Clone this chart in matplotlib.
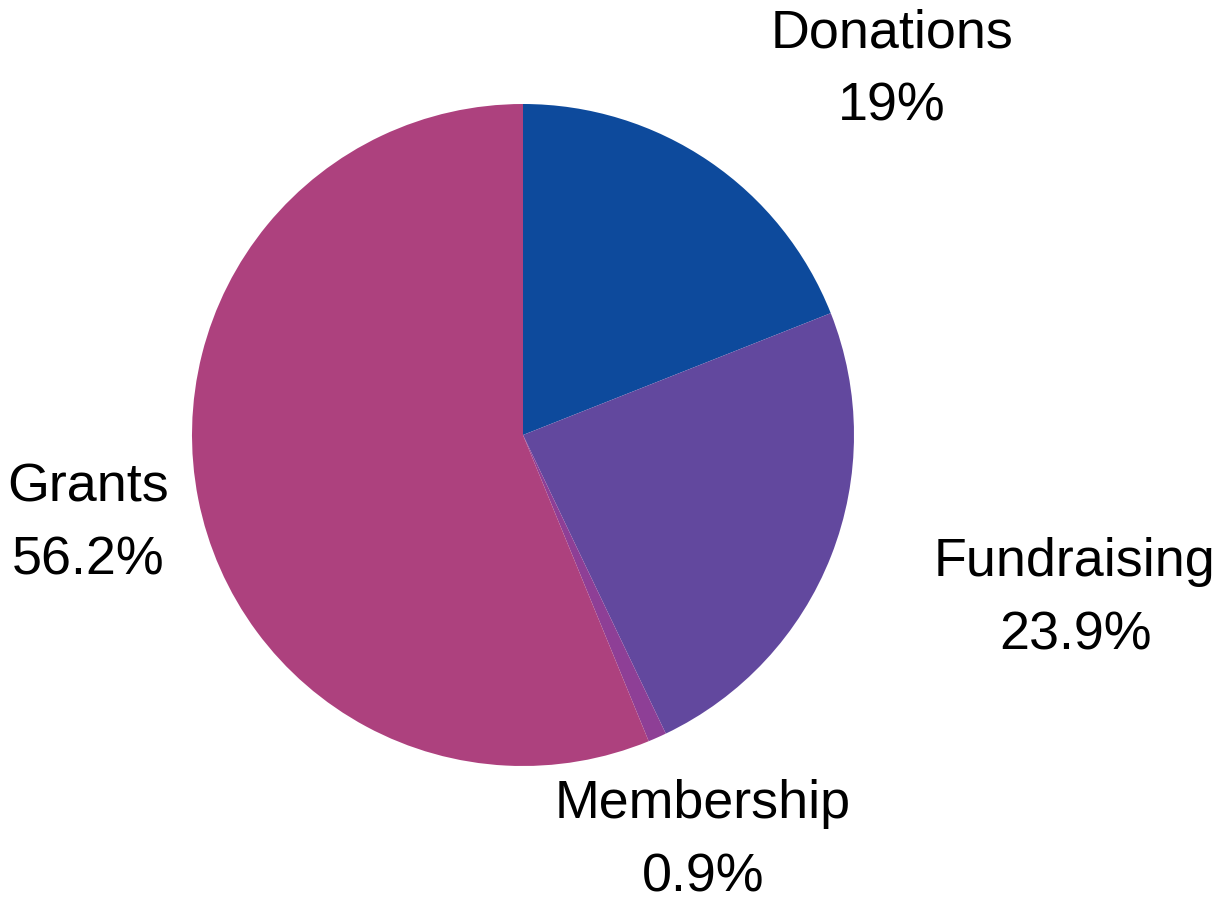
import matplotlib
matplotlib.use("Agg")
import matplotlib.pyplot as plt

# revenue sources, clockwise from top
sources = ["Donations", "Fundraising", "Membership", "Grants"]
shares = [19.0, 23.9, 0.9, 56.2]
share_labels = ["19%", "23.9%", "0.9%", "56.2%"]
colors = ["#0d4a9c", "#62489e", "#8e3f96", "#ad417e"]

# label centres in pixel coords (x, y from top)
label_pos = [(892, 70), (1075, 599), (703, 841), (88, 524)]

plt.rcParams["font.family"] = ["Liberation Sans", "DejaVu Sans"]

W, H = 1225, 902
fig = plt.figure(figsize=(W / 100, H / 100), dpi=100)
ax = fig.add_axes([0, 0, 1, 1])

cx, cy, r = 523, H - 435, 331
ax.pie(shares, colors=colors, startangle=90, counterclock=False,
       center=(cx, cy), radius=r, frame=True,
       wedgeprops={"linewidth": 0, "antialiased": True})
ax.set_xlim(0, W)
ax.set_ylim(0, H)
ax.set_aspect("equal")
ax.axis("off")

for name, pct, (x, y) in zip(sources, share_labels, label_pos):
    ax.text(x, H - y, name + "\n" + pct, ha="center", va="center",
            fontsize=38.8, linespacing=1.59, color="black")

fig.savefig("out.png", dpi=100)
